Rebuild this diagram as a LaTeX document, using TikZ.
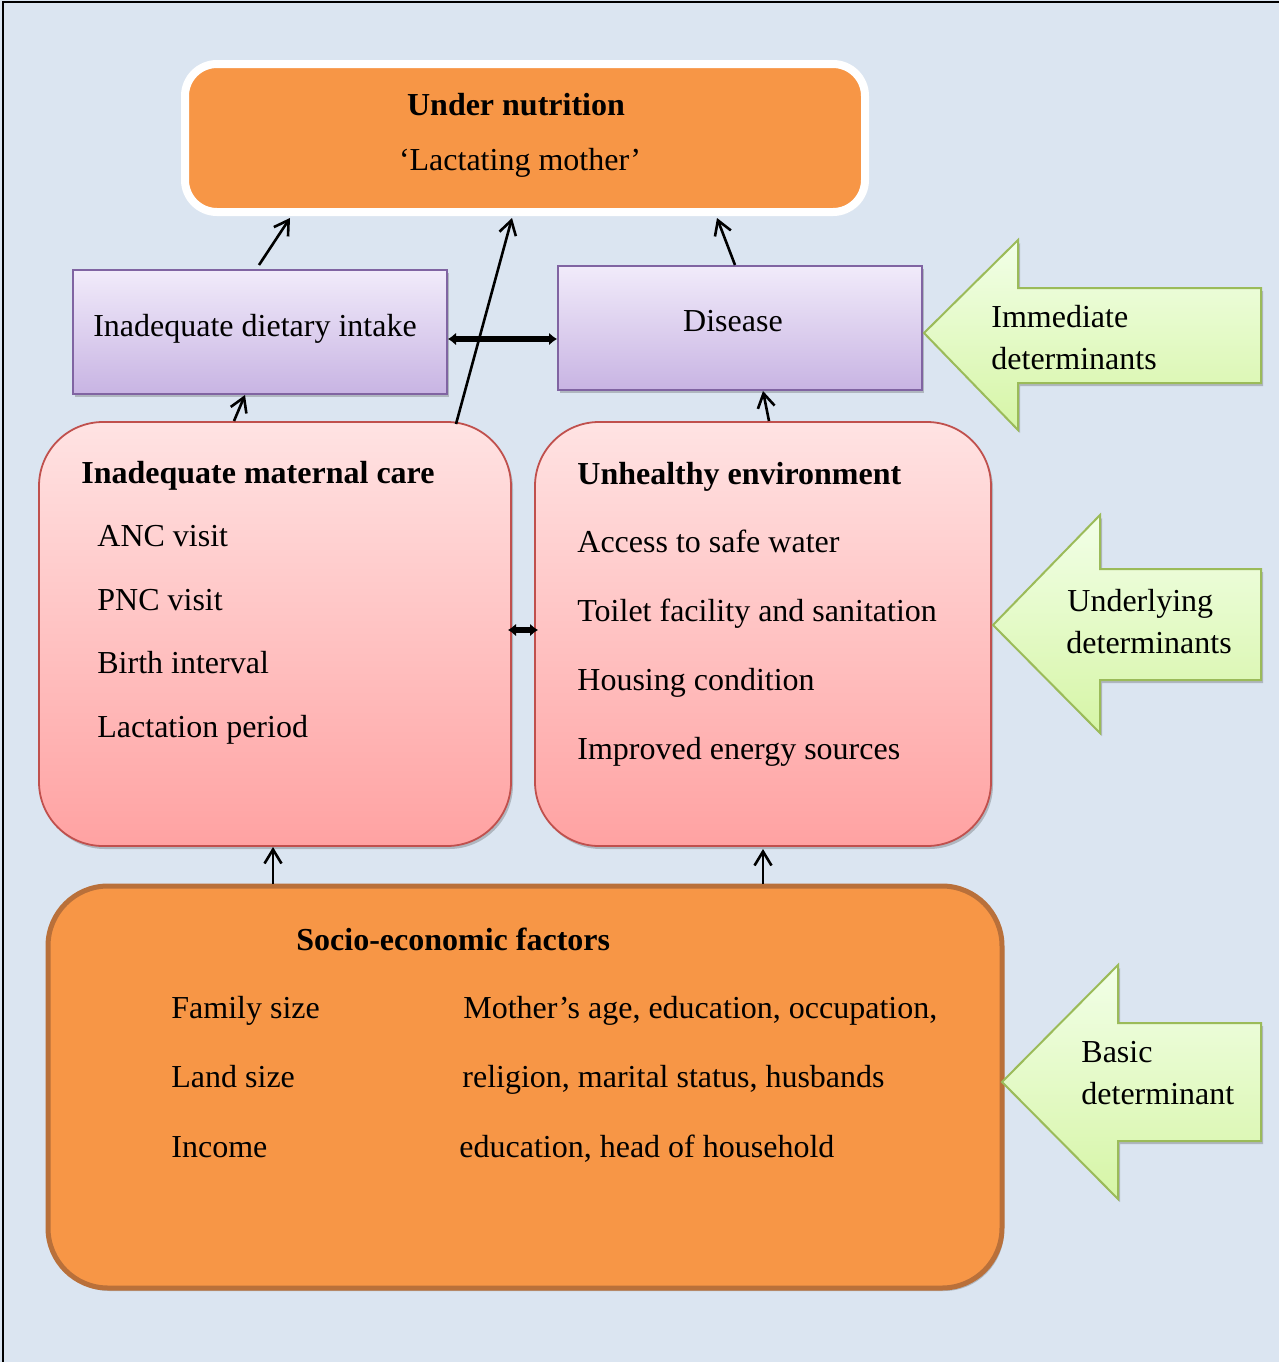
\documentclass[tikz,border=0pt]{standalone}
\usepackage{fontspec}
\setmainfont{Liberation Serif}
\usetikzlibrary{arrows.meta,calc,shadows}
\definecolor{bgblue}{HTML}{DBE5F1}
\definecolor{orangefill}{HTML}{F79646}
\definecolor{orangeline}{HTML}{B9703A}
\definecolor{purpline}{HTML}{8064A2}
\definecolor{purptop}{HTML}{F1EBFA}
\definecolor{purpbot}{HTML}{C8B4E3}
\definecolor{redline}{HTML}{C0504D}
\definecolor{redtop}{HTML}{FFE3E3}
\definecolor{redbot}{HTML}{FFA2A2}
\definecolor{greenline}{HTML}{9BBB59}
\definecolor{greentop}{HTML}{F2FFE8}
\definecolor{greenbot}{HTML}{D6F5A6}
\tikzset{
  txt/.style={anchor=base west,inner sep=0pt,font=\fontsize{16}{19}\selectfont},
  btxt/.style={anchor=base west,inner sep=0pt,font=\fontsize{16}{19}\selectfont\bfseries},
  ctxt/.style={anchor=base,inner sep=0pt,font=\fontsize{16}{19}\selectfont},
  shad/.style={drop shadow={shadow xshift=1pt,shadow yshift=-1.5pt,opacity=0.3,fill=black!70}},
  purpbox/.style={shad,draw=purpline,line width=0.9pt,top color=purptop,bottom color=purpbot,inner sep=0pt,outer sep=0pt},
  redbox/.style={shad,draw=redline,line width=0.9pt,top color=redtop,bottom color=redbot,rounded corners=32pt,inner sep=0pt,outer sep=0pt},
  greenarrow/.style={shad,draw=greenline,line width=1pt,top color=greentop,bottom color=greenbot,line join=miter},
  thinarrow/.style={line width=1.3pt,-{Straight Barb[length=7pt,width=8.5pt]}},
  thickarrow/.style={line width=2.6pt,{Latex[length=4pt,width=6.5pt]}-{Latex[length=4pt,width=6.5pt]}}
}
\begin{document}
\begin{tikzpicture}[x=0.5pt,y=-0.5pt]
\useasboundingbox (0,0) rectangle (1279,1362);
\fill[bgblue] (0,0) rectangle (1279,1362);
\draw[line width=1pt,black] (3,1362) -- (3,1.5) -- (1279,1.5);

% top box
\node[shad,draw=white,line width=4pt,fill=orangefill,rounded corners=16pt,inner sep=0pt,outer sep=0pt,
      minimum width=340pt,minimum height=74pt] (top) at (525,138) {};
\node[ctxt,font=\fontsize{16}{19}\selectfont\bfseries] (t1) at (516,115) {Under nutrition};
\node[ctxt] (t2) at (520,170) {‘Lactating mother’};

% immediate boxes
\node[purpbox,minimum width=187pt,minimum height=62pt] (diet) at (260,332) {};
\node[ctxt] (dietT) at (255,336) {Inadequate dietary intake};
\node[purpbox,minimum width=182pt,minimum height=62pt] (dis) at (740,328) {};
\node[ctxt] (disT) at (733,331) {Disease};

% underlying boxes
\node[redbox,minimum width=236pt,minimum height=212pt] (mat) at (275,634) {};
\node[btxt] (m0) at (81,483) {Inadequate maternal care};
\node[txt] (m1) at (97,546) {ANC visit};
\node[txt] (m2) at (97,610) {PNC visit};
\node[txt] (m3) at (97,673) {Birth interval};
\node[txt] (m4) at (97,737) {Lactation period};

\node[redbox,minimum width=228pt,minimum height=212pt] (env) at (763,634) {};
\node[btxt] (e0) at (577,484) {Unhealthy environment};
\node[txt] (e1) at (577,552) {Access to safe water};
\node[txt] (e2) at (577,621) {Toilet facility and sanitation};
\node[txt] (e3) at (577,690) {Housing condition};
\node[txt] (e4) at (577,759) {Improved energy sources};

% basic box
\node[shad,draw=orangeline,line width=2.5pt,fill=orangefill,rounded corners=30pt,inner sep=0pt,outer sep=0pt,
      minimum width=477pt,minimum height=201pt] (soc) at (525,1087) {};
\node[btxt] (s0) at (296,950) {Socio-economic factors};
\node[txt] (s1) at (171,1018) {Family size};
\node[txt] (s2) at (171,1087) {Land size};
\node[txt] (s3) at (171,1157) {Income};
\node[txt] (s4) at (463,1018) {Mother’s age, education, occupation,};
\node[txt] (s5) at (462,1087) {religion, marital status, husbands};
\node[txt] (s6) at (459,1157) {education, head of household};

% green arrows
\draw[greenarrow] (924,333) -- (1018,240) -- (1018,288) -- (1261,288) -- (1261,383) -- (1018,383) -- (1018,430) -- cycle;
\node[txt] (g1a) at (991,327) {Immediate};
\node[txt] (g1b) at (991,369) {determinants};
\draw[greenarrow] (993,625) -- (1100,515) -- (1100,569) -- (1261,569) -- (1261,680) -- (1100,680) -- (1100,733) -- cycle;
\node[txt] (g2a) at (1067,611) {Underlying};
\node[txt] (g2b) at (1066,653) {determinants};
\draw[greenarrow] (1002,1082) -- (1118,965) -- (1118,1023) -- (1261,1023) -- (1261,1141) -- (1118,1141) -- (1118,1199) -- cycle;
\node[txt] (g3a) at (1081,1062) {Basic};
\node[txt] (g3b) at (1081,1104) {determinant};

% connectors
\draw[thinarrow] ($(diet.north)+(-1,-5)$) -- ($(top.south west)+(105,6)$);
\draw[thinarrow] ($(mat.north east)+(-55,2)$) -- ($(top.south west)+(327,6)$);
\draw[thinarrow] ($(dis.north)+(-5,-1)$) -- ($(top.south west)+(532,6)$);
\draw[thickarrow] ($(diet.east)+(1,7)$) -- ($(dis.west)+(-1,11)$);
\draw[thinarrow] ($(mat.north)+(-41,-1)$) -- ($(diet.south)+(-15,1)$);
\draw[thinarrow] ($(env.north)+(6,-1)$) -- ($(dis.south)+(23,1)$);
\draw[thickarrow] ($(mat.east)+(-3,-4)$) -- ($(env.west)+(3,-4)$);
\draw[thinarrow] ($(soc.north west)+(225,-2)$) -- ($(mat.south)+(-2,1)$);
\draw[thinarrow] ($(soc.north west)+(715,-2)$) -- ($(env.south)+(0,3)$);
\end{tikzpicture}
\end{document}
